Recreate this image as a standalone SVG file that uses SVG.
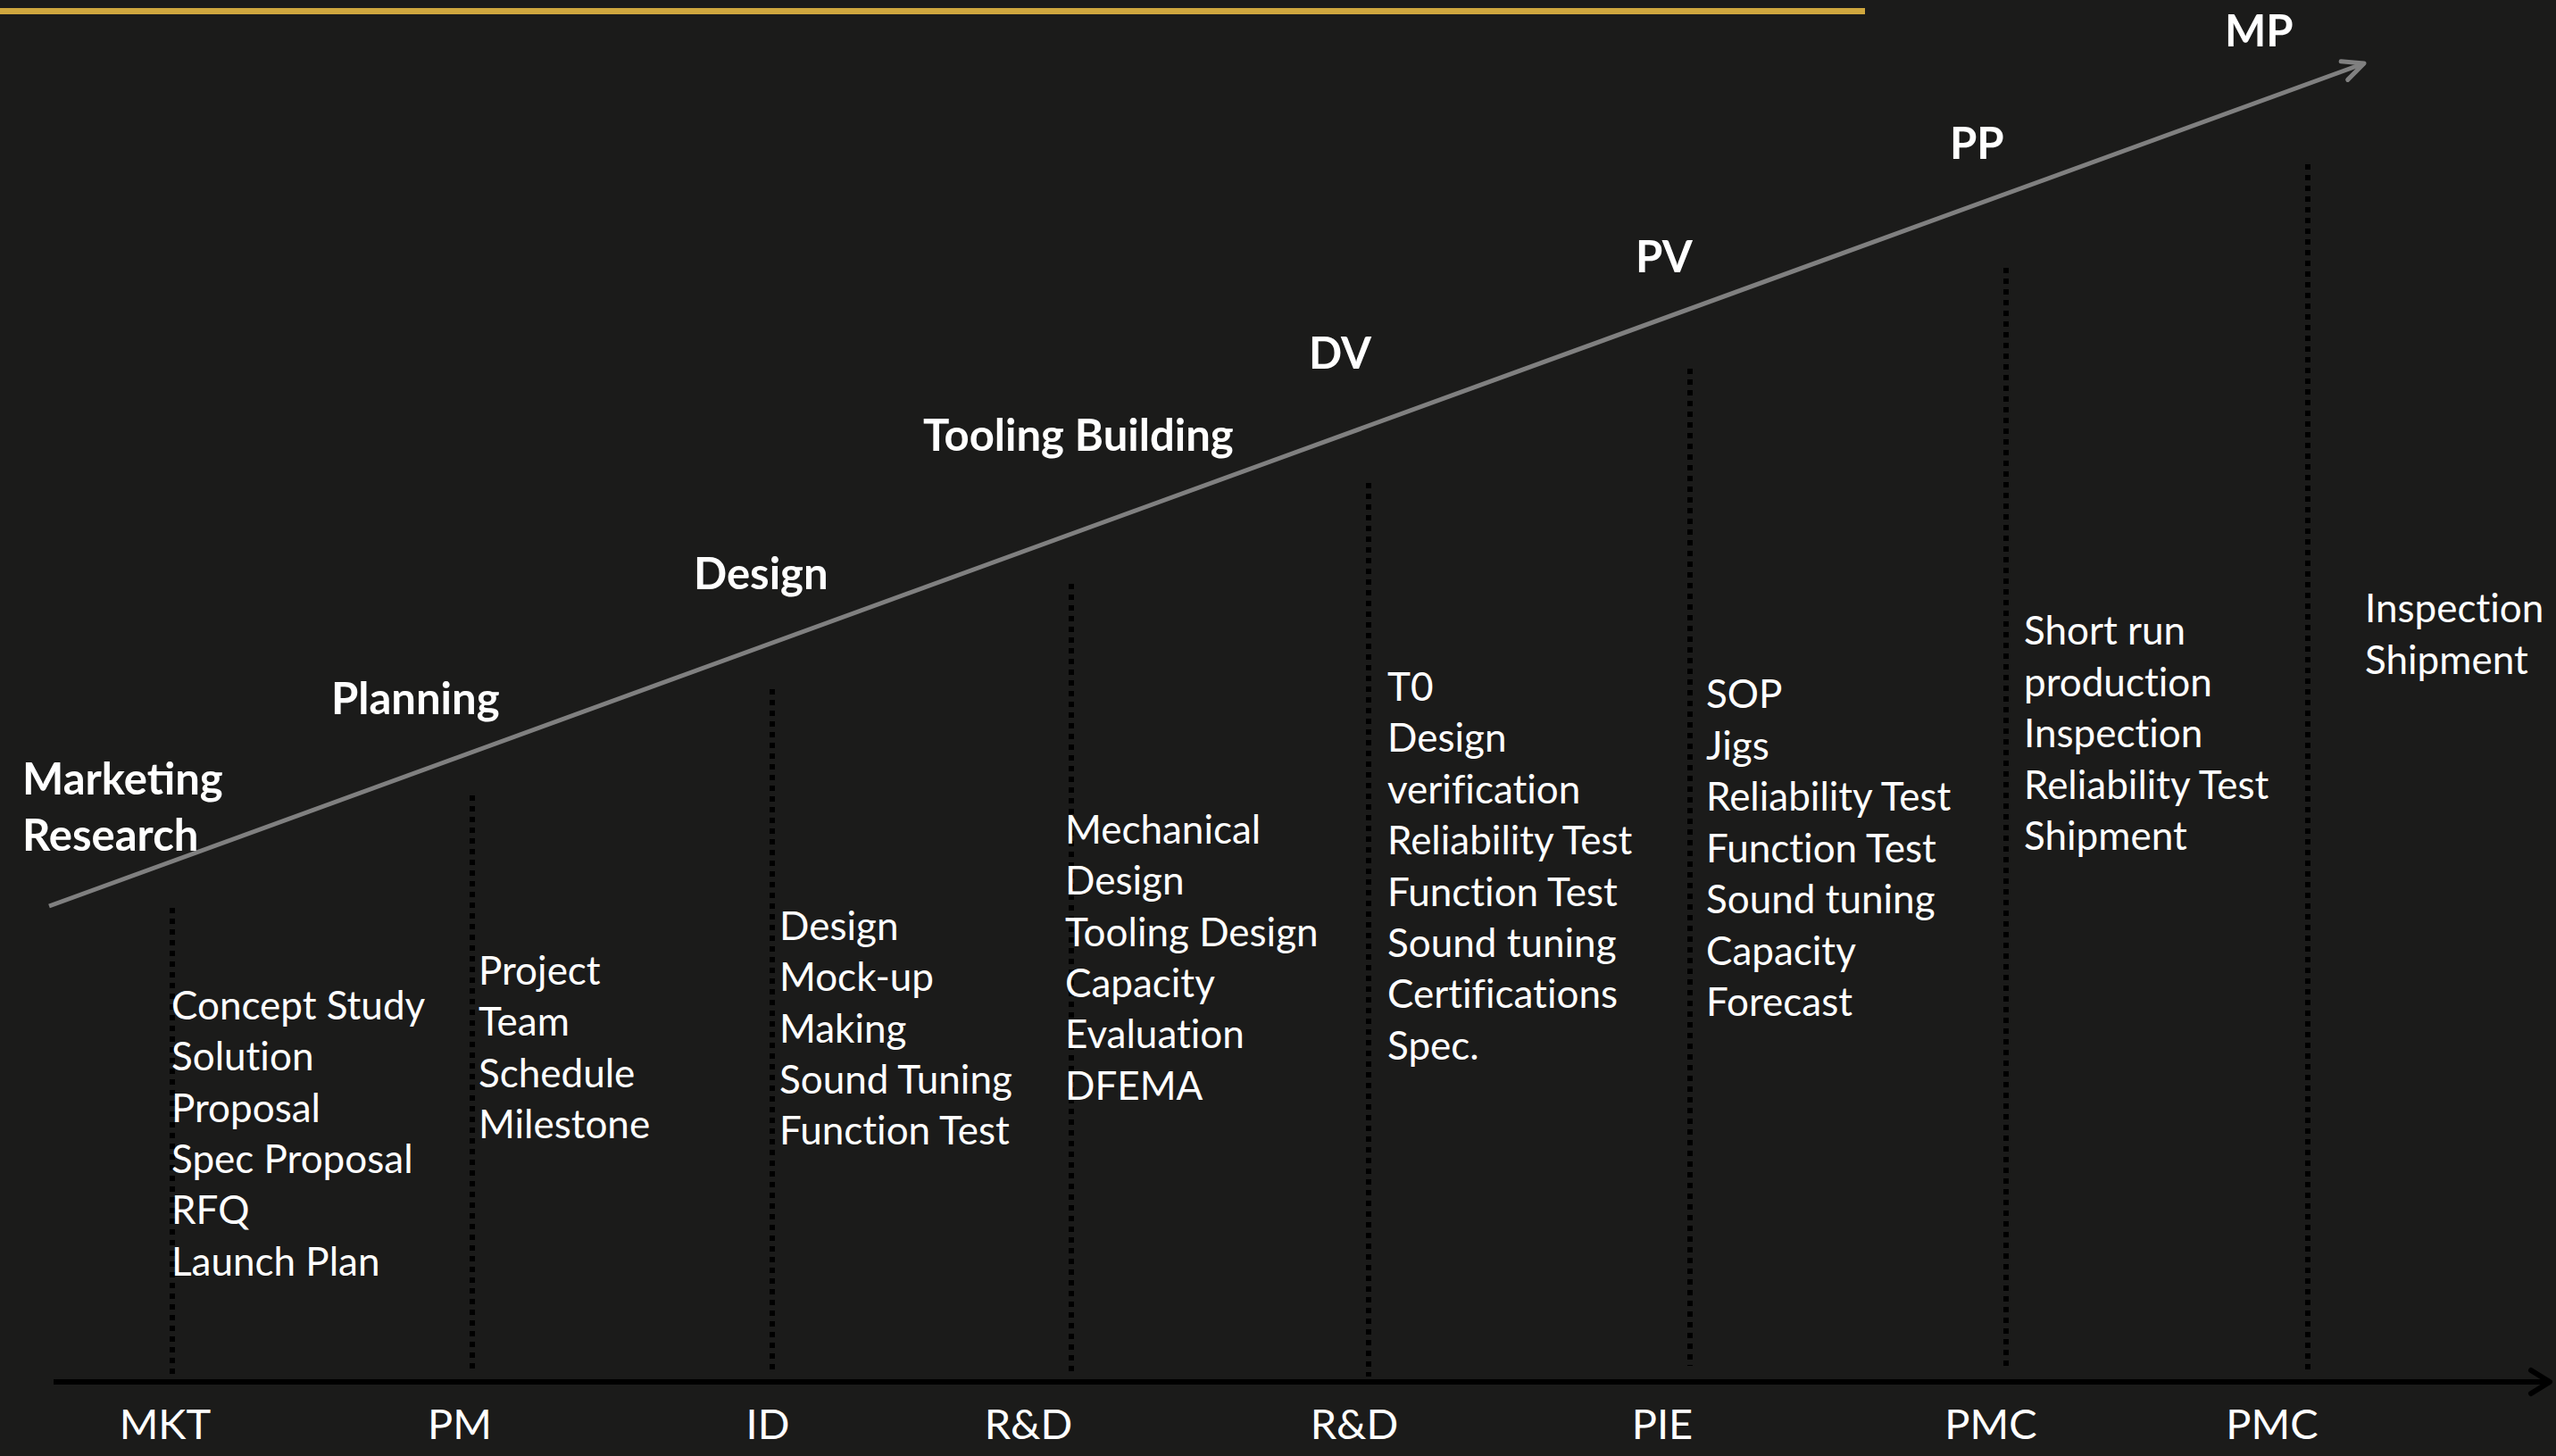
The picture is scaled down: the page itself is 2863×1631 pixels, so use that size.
<svg xmlns="http://www.w3.org/2000/svg" width="2863" height="1631" viewBox="0 0 2863 1631">
<defs>
<style>
.phase{font-family:Lato,"Open Sans","Liberation Sans",sans-serif;font-weight:700;font-size:49px;fill:#ffffff}
.task{font-family:Lato,"Open Sans","Liberation Sans",sans-serif;font-size:44px;fill:#ffffff;font-variant-ligatures:none}
.dept{font-family:Lato,"Open Sans","Liberation Sans",sans-serif;font-size:47px;fill:#ffffff;text-anchor:middle}
.dots{stroke:#000000;stroke-width:6;stroke-dasharray:6 6;fill:none}
</style>
<marker id="grayHead" markerUnits="userSpaceOnUse" viewBox="-30 -16 34 32" refX="0" refY="0" markerWidth="34" markerHeight="32" orient="auto">
<path d="M -23.5 -11 L 0 0 L -23.5 11" fill="none" stroke="#808080" stroke-width="5" stroke-linecap="round" stroke-linejoin="round"/>
</marker>
<marker id="blackHead" markerUnits="userSpaceOnUse" viewBox="-30 -18 34 36" refX="0" refY="0" markerWidth="34" markerHeight="36" orient="auto">
<path d="M -21 -13 L 0 0 L -21 13" fill="none" stroke="#000000" stroke-width="6" stroke-linecap="round" stroke-linejoin="round"/>
</marker>
</defs>
<rect x="0" y="0" width="2863" height="1631" fill="#1b1b1a"/>
<rect x="0" y="9" width="2089" height="7" fill="#cfa73e"/>

<g id="connectors">
<line x1="55" y1="1015" x2="2648" y2="71" stroke="#808080" stroke-width="5" marker-end="url(#grayHead)"/>
<line x1="60" y1="1548" x2="2856" y2="1548" stroke="#000000" stroke-width="6" marker-end="url(#blackHead)"/>
</g>

<g id="stage-mkt">
<line class="dots" x1="193" y1="1017" x2="193" y2="1540"/>
<text class="phase" x="25" y="890"><tspan x="25" y="890">Marketing</tspan><tspan x="25" y="953">Research</tspan></text>
<text class="task" x="192" y="1142"><tspan x="192" y="1142">Concept Study</tspan><tspan x="192" dy="57.3">Solution</tspan><tspan x="192" dy="57.3">Proposal</tspan><tspan x="192" dy="57.3">Spec Proposal</tspan><tspan x="192" dy="57.3">RFQ</tspan><tspan x="192" dy="57.3">Launch Plan</tspan></text>
<text class="dept" x="185" y="1612">MKT</text>
</g>

<g id="stage-pm">
<line class="dots" x1="529" y1="891" x2="529" y2="1536"/>
<text class="phase" x="371" y="800">Planning</text>
<text class="task" x="536" y="1103"><tspan x="536" y="1103">Project</tspan><tspan x="536" dy="57.3">Team</tspan><tspan x="536" dy="57.3">Schedule</tspan><tspan x="536" dy="57.3">Milestone</tspan></text>
<text class="dept" x="515" y="1612">PM</text>
</g>

<g id="stage-id">
<line class="dots" x1="865" y1="772" x2="865" y2="1538"/>
<text class="phase" x="777" y="660">Design</text>
<text class="task" x="873" y="1053"><tspan x="873" y="1053">Design</tspan><tspan x="873" dy="57.3">Mock-up</tspan><tspan x="873" dy="57.3">Making</tspan><tspan x="873" dy="57.3">Sound Tuning</tspan><tspan x="873" dy="57.3">Function Test</tspan></text>
<text class="dept" x="860" y="1612">ID</text>
</g>

<g id="stage-rd1">
<line class="dots" x1="1200" y1="654" x2="1200" y2="1538"/>
<text class="phase" x="1034" y="505">Tooling Building</text>
<text class="task" x="1193" y="945"><tspan x="1193" y="945">Mechanical</tspan><tspan x="1193" dy="57.3">Design</tspan><tspan x="1193" dy="57.3">Tooling Design</tspan><tspan x="1193" dy="57.3">Capacity</tspan><tspan x="1193" dy="57.3">Evaluation</tspan><tspan x="1193" dy="57.3">DFEMA</tspan></text>
<text class="dept" x="1152" y="1612">R&amp;D</text>
</g>

<g id="stage-rd2">
<line class="dots" x1="1533" y1="541" x2="1533" y2="1542"/>
<text class="phase" x="1466" y="413">DV</text>
<text class="task" x="1554" y="785"><tspan x="1554" y="785">T0</tspan><tspan x="1554" dy="57.4">Design</tspan><tspan x="1554" dy="57.4">verification</tspan><tspan x="1554" dy="57.4">Reliability Test</tspan><tspan x="1554" dy="57.4">Function Test</tspan><tspan x="1554" dy="57.4">Sound tuning</tspan><tspan x="1554" dy="57.4">Certifications</tspan><tspan x="1554" dy="57.4">Spec.</tspan></text>
<text class="dept" x="1517" y="1612">R&amp;D</text>
</g>

<g id="stage-pie">
<line class="dots" x1="1893" y1="413" x2="1893" y2="1530"/>
<text class="phase" x="1832" y="305">PV</text>
<text class="task" x="1911" y="793"><tspan x="1911" y="793">SOP</tspan><tspan x="1911" dy="57.5">Jigs</tspan><tspan x="1911" dy="57.5">Reliability Test</tspan><tspan x="1911" dy="57.5">Function Test</tspan><tspan x="1911" dy="57.5">Sound tuning</tspan><tspan x="1911" dy="57.5">Capacity</tspan><tspan x="1911" dy="57.5">Forecast</tspan></text>
<text class="dept" x="1862" y="1612">PIE</text>
</g>

<g id="stage-pmc1">
<line class="dots" x1="2247" y1="300" x2="2247" y2="1535"/>
<text class="phase" x="2184" y="178">PP</text>
<text class="task" x="2267" y="722"><tspan x="2267" y="722">Short run</tspan><tspan x="2267" dy="57.5">production</tspan><tspan x="2267" dy="57.5">Inspection</tspan><tspan x="2267" dy="57.5">Reliability Test</tspan><tspan x="2267" dy="57.5">Shipment</tspan></text>
<text class="dept" x="2230" y="1612">PMC</text>
</g>

<g id="stage-pmc2">
<line class="dots" x1="2585" y1="184" x2="2585" y2="1535"/>
<text class="phase" x="2492" y="52">MP</text>
<text class="task" x="2649" y="697"><tspan x="2649" y="697">Inspection</tspan><tspan x="2649" dy="57.5">Shipment</tspan></text>
<text class="dept" x="2545" y="1612">PMC</text>
</g>
</svg>
